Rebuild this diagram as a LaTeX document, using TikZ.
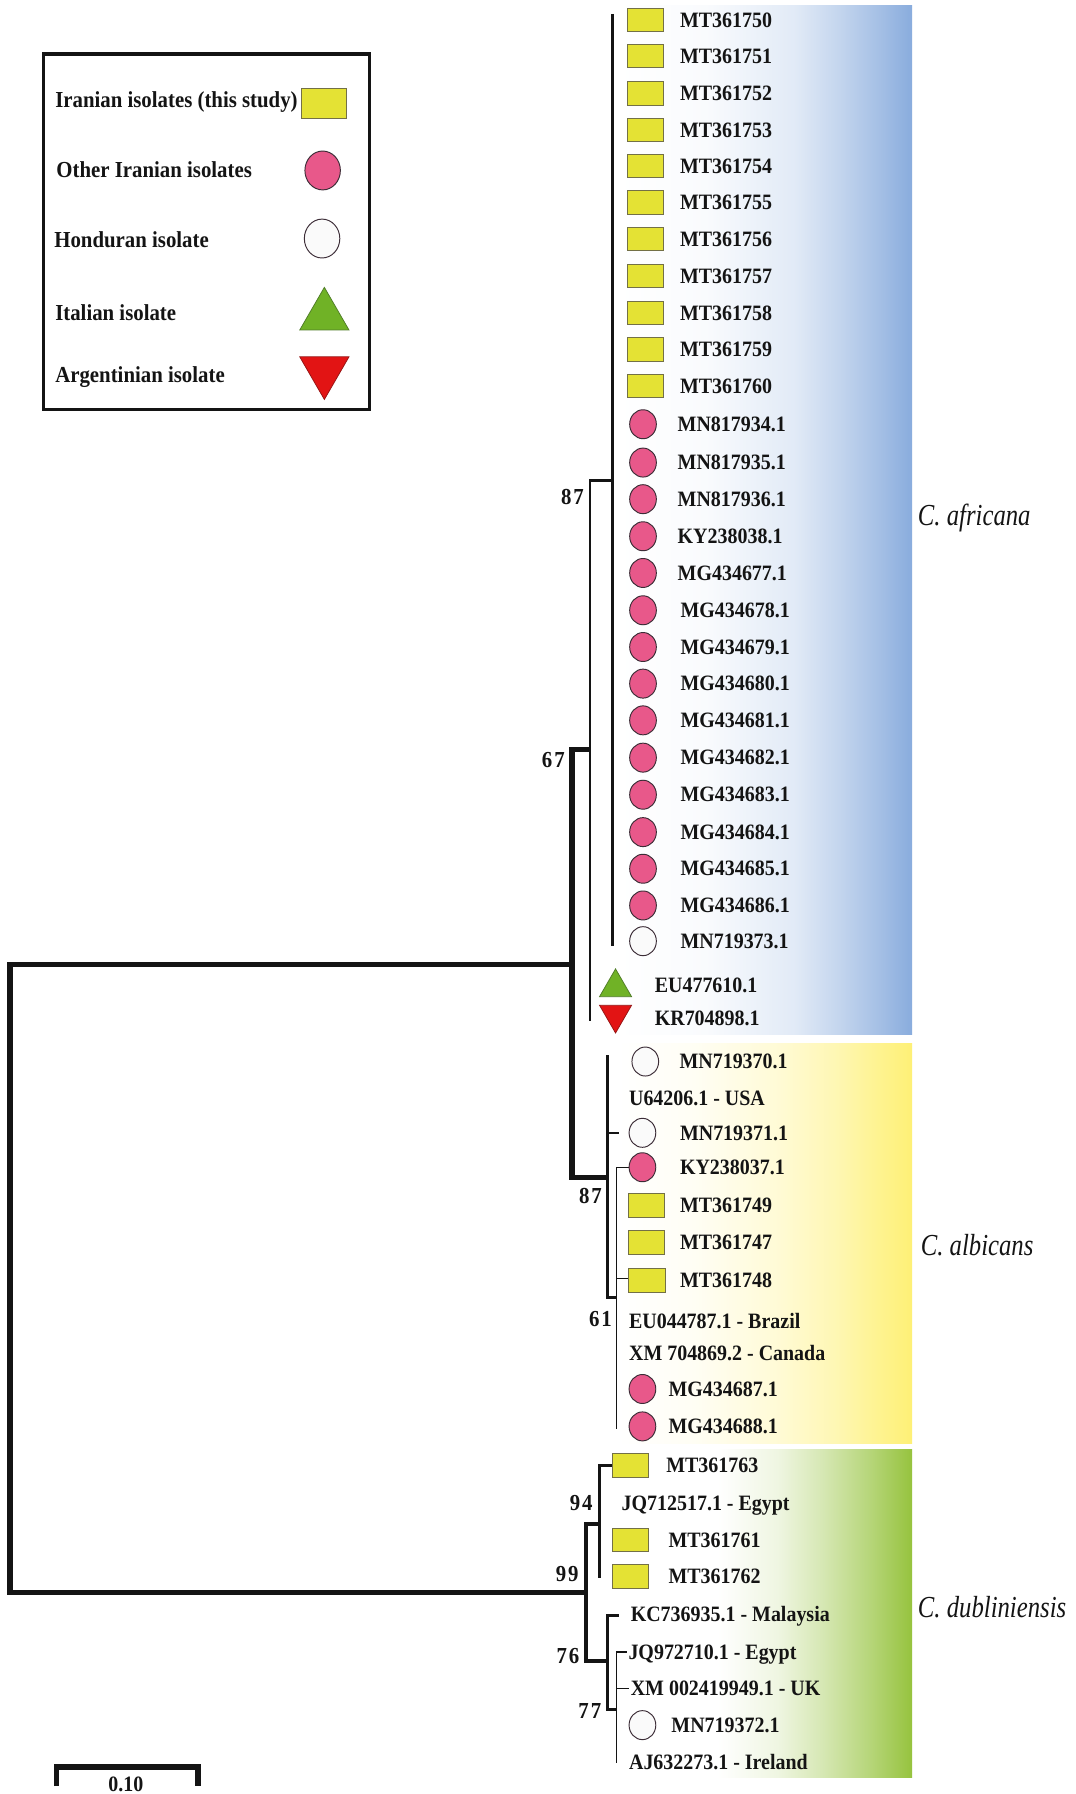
\documentclass[tikz,border=0pt]{standalone}
\usepackage{fontspec}
\newfontfamily\treefont[FakeStretch=0.91]{Liberation Serif}
\newfontfamily\cladefamily[FakeStretch=0.81]{Liberation Serif}
\newcommand{\leaffont}{\treefont\bfseries\fontsize{11.5pt}{13pt}\selectfont}
\newcommand{\legfont}{\treefont\bfseries\fontsize{12pt}{14pt}\selectfont}
\newcommand{\supfont}{\treefont\bfseries\fontsize{12pt}{14pt}\selectfont}
\newcommand{\cladelabelfont}{\cladefamily\itshape\fontsize{16pt}{18pt}\selectfont}
\usetikzlibrary{shapes.geometric}

\definecolor{bluec}{RGB}{137,172,221}
\definecolor{yelc}{RGB}{254,240,118}
\definecolor{grnc}{RGB}{150,195,62}
\definecolor{sqf}{RGB}{228,226,52}
\definecolor{sqd}{RGB}{115,112,70}
\definecolor{pkf}{RGB}{232,88,138}
\definecolor{ckd}{RGB}{60,45,55}
\definecolor{wcf}{RGB}{250,250,250}
\definecolor{gtf}{RGB}{112,178,38}
\definecolor{gtd}{RGB}{80,125,40}
\definecolor{rtf}{RGB}{226,20,20}
\definecolor{rtd}{RGB}{150,20,20}
\definecolor{txt}{RGB}{20,20,20}

\pgfdeclarehorizontalshading{blueshade}{100bp}{color(0bp)=(white); color(25bp)=(white); color(40bp)=(white!95!bluec); color(55bp)=(white!75!bluec); color(62.5bp)=(white!50!bluec); color(69bp)=(white!25!bluec); color(75bp)=(bluec); color(100bp)=(bluec)}
\pgfdeclarehorizontalshading{yelshade}{100bp}{color(0bp)=(white); color(25bp)=(white); color(38bp)=(white!92!yelc); color(52bp)=(white!70!yelc); color(62bp)=(white!45!yelc); color(69bp)=(white!20!yelc); color(75bp)=(yelc); color(100bp)=(yelc)}
\pgfdeclarehorizontalshading{grnshade}{100bp}{color(0bp)=(white); color(25bp)=(white); color(42bp)=(white); color(52bp)=(white!85!grnc); color(60bp)=(white!60!grnc); color(68bp)=(white!30!grnc); color(75bp)=(grnc); color(100bp)=(grnc)}

\begin{document}
\begin{tikzpicture}[x=0.6pt,y=-0.6pt,
 thickl/.style={line width=2.9pt, draw=txt},
 thickm/.style={line width=2.2pt, draw=txt},
 medl/.style={line width=1.5pt, draw=txt},
 thinl/.style={line width=0.75pt, draw=txt},
 sq/.style={rectangle, draw=sqd, fill=sqf, line width=0.5pt, minimum width=19pt, minimum height=12.3pt, inner sep=0pt},
 pk/.style={ellipse, draw=ckd, fill=pkf, line width=0.5pt, minimum width=14pt, minimum height=15.2pt, inner sep=0pt},
 wc/.style={pk, fill=wcf},
 gt/.style={regular polygon, regular polygon sides=3, draw=gtd, fill=gtf, line width=0.4pt, minimum size=19.4pt, inner sep=0pt},
 rt/.style={gt, draw=rtd, fill=rtf, shape border rotate=180},
 lab/.style={anchor=base west, inner sep=0pt, yshift=-3.8pt, font=\leaffont, text=txt},
 leg/.style={anchor=base west, inner sep=0pt, yshift=-4pt, font=\legfont, text=txt},
 num/.style={anchor=base east, inner sep=0pt, yshift=-4pt, font=\supfont, text=txt},
 clade/.style={anchor=base west, inner sep=0pt, yshift=-5.3pt, font=\cladelabelfont, text=txt}
]
\useasboundingbox (0,0) rectangle (940,1568);
\fill[white] (0,0) rectangle (940,1568);

% clade backgrounds
\shade[shading=blueshade] (540,5.2) rectangle (797.2,904.5);
\shade[shading=yelshade] (540,911.7) rectangle (797.2,1261.5);
\shade[shading=grnshade] (540,1267.3) rectangle (797.2,1553.6);

% legend
\draw[line width=1.6pt, draw=txt] (38,47.2) rectangle (322.7,357.6);
\node[leg] (L1) at (48,87.4) {Iranian isolates (this study)};
\node[leg] (L2) at (49,148.7) {Other Iranian isolates};
\node[leg] (L3) at (47.2,209.3) {Honduran isolate};
\node[leg] (L4) at (48,273.4) {Italian isolate};
\node[leg] (L5) at (48,328) {Argentinian isolate};
\node[sq, minimum width=24pt, minimum height=15.8pt] (Lsq) at (283.2,90.3) {};
\node[pk, minimum width=18.6pt, minimum height=20.4pt] (Lpk) at (282,149) {};
\node[wc, minimum width=18.6pt, minimum height=20.4pt] (Lwc) at (281.5,208.5) {};
\node[gt, minimum size=29.8pt] (Lgt) at (283.5,276) {};
\node[rt, minimum size=29.8pt] (Lrt) at (283.5,324.3) {};

% ---------------- tree ----------------
\coordinate (rootT) at (8.6,842.8);
\coordinate (rootB) at (8.6,1392);
\coordinate (nAC) at (500,842.8);
\coordinate (nD) at (512.5,1392);
\draw[thickl] (nAC) -- (rootT) -- (rootB) -- (nD);

\coordinate (nACt) at (500,655.2);
\coordinate (nACb) at (500,1029);
\coordinate (n67) at (515.7,655.2);
\coordinate (nAlb) at (531,1029);
\draw[thickl] (n67) -- (nACt) -- (nACb) -- (nAlb);

\coordinate (a87t) at (515.7,419.7);
\coordinate (a87b) at (515.7,892.5);
\coordinate (poly) at (535,419.7);
\draw[medl] (poly) -- (a87t) -- (a87b);
\coordinate (polyT) at (535,12.2);
\coordinate (polyB) at (535,827);
\draw[medl] (polyT) -- (polyB);

\coordinate (albT) at (531,922.5);
\coordinate (albB) at (531,1135);
\draw[medl] (albT) -- (albB);
\coordinate (b371a) at (531,990.1);
\coordinate (b371b) at (541,990.1);
\draw[thinl] (b371a) -- (b371b);
\coordinate (n61a) at (531,1134);
\coordinate (n61b) at (539,1134);
\draw[medl] (n61a) -- (n61b);
\coordinate (s61t) at (539,1020.2);
\coordinate (s61b) at (539,1249);
\coordinate (bKY) at (550,1020.2);
\draw[thinl] (bKY) -- (s61t) -- (s61b);
\coordinate (s748a) at (539,1117.6);
\coordinate (s748b) at (550,1117.6);
\draw[thinl] (s748a) -- (s748b);

\coordinate (d94) at (523.6,1332);
\coordinate (dT) at (512.5,1332);
\coordinate (dB) at (512.5,1451.5);
\coordinate (d76) at (531,1451.5);
\draw[thickm] (d94) -- (dT) -- (dB) -- (d76);
\coordinate (b763) at (535.5,1281);
\coordinate (d94t) at (523.6,1281);
\coordinate (d94b) at (523.6,1379.3);
\draw[medl] (b763) -- (d94t) -- (d94b);
\coordinate (bKC) at (541,1411.6);
\coordinate (d76t) at (531,1411.6);
\coordinate (d76b) at (531,1494);
\coordinate (d77) at (538.8,1494);
\draw[medl] (bKC) -- (d76t) -- (d76b) -- (d77);
\coordinate (bJQ) at (548,1443.7);
\coordinate (d77t) at (538.8,1443.7);
\coordinate (d77b) at (538.8,1540.5);
\draw[thinl] (bJQ) -- (d77t) -- (d77b);
\coordinate (bXMa) at (538.8,1475.8);
\coordinate (bXMb) at (550,1475.8);
\draw[thinl] (bXMa) -- (bXMb);

% support values
\node[num] (s87a) at (510.6,434) {8\kern1pt7};
\node[num] (s67) at (493.9,664) {6\kern1pt7};
\node[num] (s87b) at (526.4,1045) {8\kern1pt7};
\node[num] (s61) at (535,1153) {6\kern1pt1};
\node[num] (s94) at (518.2,1313.7) {9\kern1pt4};
\node[num] (s99) at (506,1376) {9\kern1pt9};
\node[num] (s76) at (506.6,1447) {7\kern1pt6};
\node[num] (s77) at (525.8,1495) {7\kern1pt7};

% ---------------- leaves: C. africana ----------------
\node[sq] (q50) at (564,17.5) {};  \node[lab] (t50) at (594,17.5) {MT361750};
\node[sq] (q51) at (564,49) {};    \node[lab] (t51) at (594,49) {MT361751};
\node[sq] (q52) at (564,81.6) {};  \node[lab] (t52) at (594,81.6) {MT361752};
\node[sq] (q53) at (564,113.7) {}; \node[lab] (t53) at (594,113.7) {MT361753};
\node[sq] (q54) at (564,145) {};   \node[lab] (t54) at (594,145) {MT361754};
\node[sq] (q55) at (564,177) {};   \node[lab] (t55) at (594,177) {MT361755};
\node[sq] (q56) at (564,209) {};   \node[lab] (t56) at (594,209) {MT361756};
\node[sq] (q57) at (564,241.3) {}; \node[lab] (t57) at (594,241.3) {MT361757};
\node[sq] (q58) at (564,273.4) {}; \node[lab] (t58) at (594,273.4) {MT361758};
\node[sq] (q59) at (564,305.5) {}; \node[lab] (t59) at (594,305.5) {MT361759};
\node[sq] (q60) at (564,337.2) {}; \node[lab] (t60) at (594,337.2) {MT361760};

\node[pk] (p34) at (562,370.8) {}; \node[lab] (u34) at (592,370.8) {MN817934.1};
\node[pk] (p35) at (562,404.3) {}; \node[lab] (u35) at (592,404.3) {MN817935.1};
\node[pk] (p36) at (562,436.3) {}; \node[lab] (u36) at (592,436.3) {MN817936.1};
\node[pk] (pky) at (562,468.7) {}; \node[lab] (uky) at (592,468.7) {KY238038.1};
\node[pk] (p77) at (562,500.8) {}; \node[lab] (u77) at (592,500.8) {MG434677.1};
\node[pk] (p78) at (562,533.4) {}; \node[lab] (u78) at (594.5,533.4) {MG434678.1};
\node[pk] (p79) at (562,565.5) {}; \node[lab] (u79) at (594.5,565.5) {MG434679.1};
\node[pk] (p80) at (562,597.5) {}; \node[lab] (u80) at (594.5,597.5) {MG434680.1};
\node[pk] (p81) at (562,629.6) {}; \node[lab] (u81) at (594.5,629.6) {MG434681.1};
\node[pk] (p82) at (562,662.2) {}; \node[lab] (u82) at (594.5,662.2) {MG434682.1};
\node[pk] (p83) at (562,694.6) {}; \node[lab] (u83) at (594.5,694.6) {MG434683.1};
\node[pk] (p84) at (562,727.3) {}; \node[lab] (u84) at (594.5,727.3) {MG434684.1};
\node[pk] (p85) at (562,759.3) {}; \node[lab] (u85) at (594.5,759.3) {MG434685.1};
\node[pk] (p86) at (562,791.4) {}; \node[lab] (u86) at (594.5,791.4) {MG434686.1};
\node[wc] (w73) at (562,822.6) {}; \node[lab] (v73) at (594.5,822.6) {MN719373.1};
\node[gt] (geu) at (538,863) {};   \node[lab] (teu) at (572,861) {EU477610.1};
\node[rt] (rkr) at (538,886.7) {}; \node[lab] (tkr) at (572,890) {KR704898.1};

% ---------------- leaves: C. albicans ----------------
\node[wc] (w70) at (564,927.8) {};  \node[lab] (v70) at (593.6,927.8) {MN719370.1};
\node[lab] (usa) at (549.5,959.9) {U64206.1 - USA};
\node[wc] (w71) at (561.5,990.1) {}; \node[lab] (v71) at (594,990.1) {MN719371.1};
\node[pk] (p37) at (561.5,1020.2) {}; \node[lab] (u37) at (594,1020.2) {KY238037.1};
\node[sq] (q49) at (565,1053.7) {};  \node[lab] (t49) at (594,1053.7) {MT361749};
\node[sq] (q47) at (565,1085.8) {};  \node[lab] (t47) at (594,1085.8) {MT361747};
\node[sq] (q48) at (565.5,1119.3) {}; \node[lab] (t48) at (594,1119.3) {MT361748};
\node[lab] (bra) at (549.5,1155.1) {EU044787.1 - Brazil};
\node[lab] (can) at (549.5,1182.8) {XM 704869.2 - Canada};
\node[pk] (p87) at (561.5,1214) {};  \node[lab] (u87) at (584,1214) {MG434687.1};
\node[pk] (p88) at (561.5,1246.7) {}; \node[lab] (u88) at (584,1246.7) {MG434688.1};

% ---------------- leaves: C. dubliniensis ----------------
\node[sq] (q63) at (551.2,1281) {};  \node[lab] (t63) at (582,1281) {MT361763};
\node[lab] (egy1) at (543,1313.7) {JQ712517.1 - Egypt};
\node[sq] (q61) at (551.2,1346) {};  \node[lab] (t61) at (584,1346) {MT361761};
\node[sq] (q62) at (551.2,1378) {};  \node[lab] (t62) at (584,1378) {MT361762};
\node[lab] (mal) at (551,1410.7) {KC736935.1 - Malaysia};
\node[lab] (egy2) at (549,1443.7) {JQ972710.1 - Egypt};
\node[lab] (uk) at (551,1475.8) {XM 002419949.1 - UK};
\node[wc] (w72) at (561.5,1507.8) {}; \node[lab] (v72) at (586.5,1507.8) {MN719372.1};
\node[lab] (ire) at (549.5,1540.5) {AJ632273.1 - Ireland};

% clade names
\node[clade] (cAf) at (802,450.3) {C. africana};
\node[clade] (cAl) at (804.5,1088.7) {C. albicans};
\node[clade] (cDu) at (802,1405) {C. dubliniensis};

% scale bar
\coordinate (sbL) at (49.4,1561);
\coordinate (sbLt) at (49.4,1544.5);
\coordinate (sbRt) at (172.8,1544.5);
\coordinate (sbR) at (172.8,1561);
\draw[line width=3pt, draw=txt] (sbL) -- (sbLt) -- (sbRt) -- (sbR);
\node[anchor=base, inner sep=0pt, font=\leaffont, text=txt] (sbT) at (110,1566) {0.10};
\end{tikzpicture}
\end{document}
